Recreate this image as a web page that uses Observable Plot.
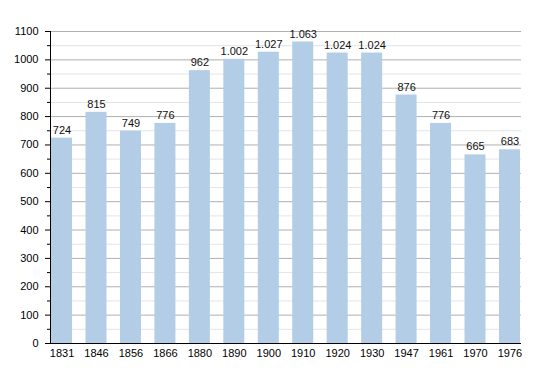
<!DOCTYPE html>
<html><head><meta charset="utf-8">
<script src="https://cdn.jsdelivr.net/npm/d3@7"></script>
<script src="https://cdn.jsdelivr.net/npm/@observablehq/plot@0.6"></script>
<style>body{margin:0;background:#fff;font-family:"Liberation Sans",Arial,sans-serif;}</style>
</head><body><div id="chart"></div>
<script>
const years = ["1831","1846","1856","1866","1880","1890","1900","1910","1920","1930","1947","1961","1970","1976"];
const population = [724,815,749,776,962,1002,1027,1063,1024,1024,876,776,665,683];
const majorTicks = [0,100,200,300,400,500,600,700,800,900,1000,1100];
const minorTicks = [50,150,250,350,450,550,650,750,850,950,1050];

const data = years.map((y,i)=>({year:y, value:population[i]}));
const fmt = d3.formatLocale({thousands:".", grouping:[3], decimal:",", currency:["",""]}).format(",");

const chart = Plot.plot({
  width: 550, height: 373,
  marginLeft: 50, marginRight: 29, marginTop: 31, marginBottom: 30,
  style: {fontFamily: '"Liberation Sans", Arial, sans-serif', fontSize: "11px", color: "#000", background: "#fff"},
  x: {domain: years, paddingInner: 0.39, paddingOuter: 0.03, round: false, label: null},
  y: {domain: [0,1100], label: null},
  marks: [
    Plot.ruleY(minorTicks, {stroke: "#e4e4e4", strokeWidth: 1}),
    Plot.ruleY(majorTicks.filter(d=>d>0), {stroke: "#b0b0b0", strokeWidth: 1}),
    Plot.barY(data, {x: "year", y: "value", fill: "#b3cde6"}),
    Plot.text(data, {x: "year", y: "value", text: d => fmt(d.value), dy: -8, fill: "#111", fontSize: 11}),
    Plot.axisY(majorTicks, {tickSize: 5, tickPadding: 7, tickFormat: d => String(d), fontSize: 11, stroke: "#000"}),
    Plot.axisY(minorTicks, {tickSize: 3, text: null, stroke: "#000"}),
    Plot.axisX({tickSize: 0, tickPadding: 6, fontSize: 11}),
    Plot.frame({anchor: "left", stroke: "#000"}),
    Plot.ruleY([0], {stroke: "#000"})
  ]
});
document.getElementById("chart").appendChild(chart);
</script></body></html>
